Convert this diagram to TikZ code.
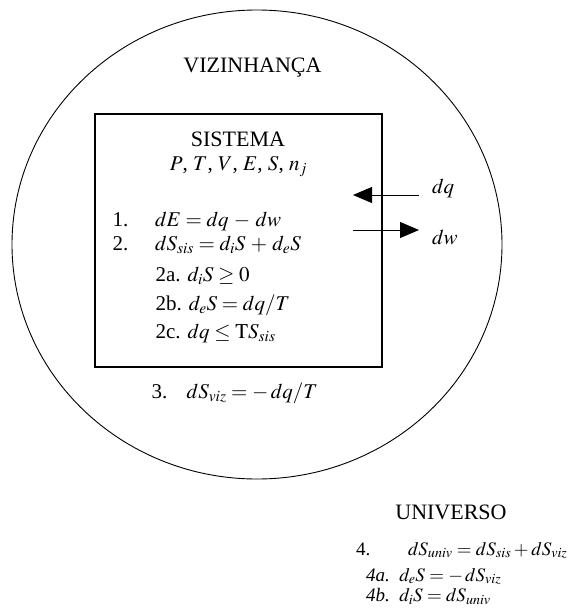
\documentclass[tikz,border=0pt]{standalone}
\usepackage{mathptmx}
\usepackage[no-math]{fontspec}
\setmainfont{Liberation Serif}
\usetikzlibrary{arrows.meta,shapes.geometric}

\begin{document}
\begin{tikzpicture}[x=1pt, y=-1pt,
  every node/.style={inner sep=0pt, outer sep=0pt},
  title/.style={font=\fontsize{22}{26}\selectfont},
  eqn/.style={anchor=base west, font=\fontsize{21}{25}\selectfont},
  small/.style={anchor=base west, font=\fontsize{19}{23}\selectfont},
  flow/.style={line width=0.8pt, -{Triangle[length=19pt, width=16pt]}}]
\useasboundingbox (0,0) rectangle (571,608);
% Vizinhanca
\node[draw, line width=0.9pt, ellipse, minimum width=490pt, minimum height=469pt] (viz) at (257,244.5) {};
\node[title, anchor=base] (viztitle) at (252.5,72.3) {VIZINHANÇA};
% Sistema
\node[draw, line width=1.2pt, minimum width=287pt, minimum height=253pt] (sis) at (238.5,240.5) {};
\node[title, anchor=base] (sistitle) at (238,146) {SISTEMA};
\node[eqn, anchor=base] (vars) at (238.5,170.7) {$P$, $T$, $V$, $E$, $S$, $n_j$};
\node[eqn] (eq1) at (112.7,226.7) {\makebox[42.3pt][l]{1.}$dE = dq \,-\, dw$};
\node[eqn] (eq2) at (112.7,250) {\makebox[42.3pt][l]{2.}$dS_{sis} = d_iS \,+\, d_eS$};
\node[eqn] (eq2a) at (155.5,281.7) {2a. $d_iS \geq 0$};
\node[eqn] (eq2b) at (155.5,310) {2b. $d_eS = dq/T$};
\node[eqn] (eq2c) at (155.5,338) {2c. $dq \leq \mathrm{T}S_{sis}$};
% Fluxos
\coordinate (dqout) at (419,195);
\coordinate (dqin) at (353,195);
\coordinate (dwin) at (353,230);
\coordinate (dwout) at (419,230);
\draw[flow] (dqout) -- (dqin);
\draw[flow] (dwin) -- (dwout);
\node[eqn] (dq) at (432,193) {$dq$};
\node[eqn] (dw) at (432,244) {$dw$};
% Entropia da vizinhanca
\node[eqn] (eq3) at (151.7,398) {\makebox[35pt][l]{3.}$dS_{viz} = -\,dq/T$};
% Universo
\node[title, anchor=base] (univ) at (451,519) {UNIVERSO};
\node[small] (eq4) at (356,555) {\makebox[52pt][l]{4.}$dS_{univ} = dS_{sis} + dS_{viz}$};
\node[small] (eq4a) at (366,581) {\textit{4a.}\ \ $d_eS = -\,dS_{viz}$};
\node[small] (eq4b) at (366,601.7) {\textit{4b.}\ \ $d_iS = dS_{univ}$};
\end{tikzpicture}
\end{document}
